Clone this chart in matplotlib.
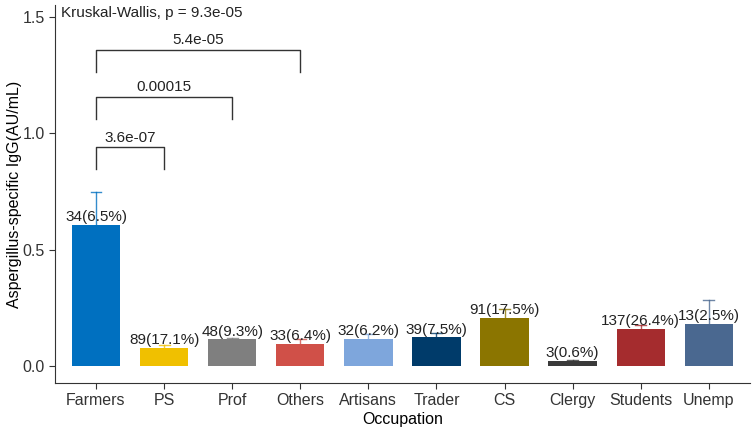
import matplotlib
matplotlib.use("Agg")
from matplotlib import pyplot as plt

plt.rcParams['font.family'] = ['Liberation Sans', 'DejaVu Sans']

occupations = ["Farmers", "PS", "Prof", "Others", "Artisans", "Trader", "CS", "Clergy", "Students", "Unemp"]
means = [0.607, 0.078, 0.116, 0.096, 0.118, 0.124, 0.207, 0.024, 0.161, 0.181]
upper = [0.750, 0.093, 0.122, 0.118, 0.137, 0.144, 0.248, 0.027, 0.176, 0.283]
counts = ["34(6.5%)", "89(17.1%)", "48(9.3%)", "33(6.4%)", "32(6.2%)", "39(7.5%)",
          "91(17.5%)", "3(0.6%)", "137(26.4%)", "13(2.5%)"]
colors = ["#0070C0", "#F0C000", "#7F7F7F", "#D05048", "#7EA6DC", "#003B6A",
          "#8B7500", "#3A3A3A", "#A52C2E", "#4A6890"]

# pairwise comparisons: (group a, group b, p label, bracket top)
pairs = [(0, 1, "3.6e-07", 0.94), (0, 2, "0.00015", 1.157), (0, 3, "5.4e-05", 1.357)]
kw_label = "Kruskal-Wallis, p = 9.3e-05"

fig = plt.figure(figsize=(7.55, 4.29), dpi=100)
ax = fig.add_axes([0.073, 0.108, 0.92, 0.88])

x = list(range(len(occupations)))
ax.bar(x, means, width=0.71, color=colors, zorder=2)
for i in x:
    ax.plot([i, i], [means[i], upper[i]], color=colors[i], lw=1, alpha=0.8, zorder=3)
    ax.plot([i - 0.08, i + 0.08], [upper[i], upper[i]], color=colors[i], lw=1, alpha=0.8, zorder=3)
    ax.text(i, means[i] + 0.003, counts[i], ha="center", va="bottom", fontsize=11, color="#222222", zorder=4)

for a, b, lab, top in pairs:
    ax.plot([a, a, b, b], [top - 0.094, top, top, top - 0.094], color="#333333", lw=1)
    ax.text((a + b) / 2, top + 0.012, lab, ha="center", va="bottom", fontsize=11, color="#222222")

ax.text(-0.52, 1.515, kw_label, ha="left", va="center", fontsize=11, color="#222222")

ax.set_xlim(-0.6, 9.6)
ax.set_ylim(-0.07, 1.55)
ax.set_xticks(x)
ax.set_xticklabels(occupations, fontsize=11.5, color="#333333")
ax.set_yticks([0.0, 0.5, 1.0, 1.5])
ax.set_yticklabels(["0.0", "0.5", "1.0", "1.5"], fontsize=11.5, color="#333333")
ax.set_xlabel("Occupation", fontsize=11.5, labelpad=3)
ax.set_ylabel("Aspergillus-specific IgG(AU/mL)", fontsize=11.5, labelpad=0)
for s in ["top", "right"]:
    ax.spines[s].set_visible(False)
for s in ["left", "bottom"]:
    ax.spines[s].set_color("#333333")
ax.tick_params(color="#333333", length=4)

fig.savefig("out.png", dpi=100)
